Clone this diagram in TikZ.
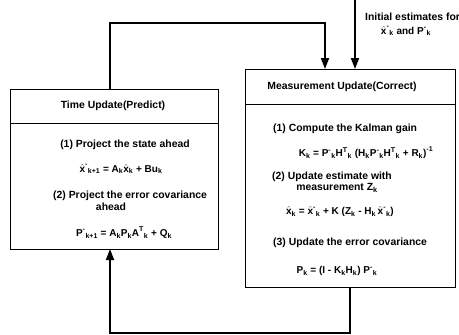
\documentclass[tikz,border=0pt]{standalone}
\usepackage{fontspec}
\usepackage{amsmath}
\setmainfont{Liberation Sans}
\usetikzlibrary{arrows.meta}
\newcommand{\T}[1]{\text{#1}}
\newcommand{\hx}{\hat{\T{x}}}
% staggered super/subscript: base^{sup} then _{sub}
\newcommand{\SX}[3]{{#1}^{\T{#2}}{}_{\T{#3}}}
\newcommand{\SB}[2]{{#1}_{\T{#2}}}
\begin{document}
\begin{tikzpicture}[x=1pt,y=-1pt,
  box/.style={draw, line width=0.6pt, outer sep=0pt, inner sep=0pt},
  sepline/.style={line width=0.6pt},
  flow/.style={line width=1.8pt, line join=miter, -{Triangle[length=11pt,width=8pt]}},
  lbl/.style={font=\fontsize{10.4}{11}\selectfont\bfseries, inner sep=0pt, align=center},
  lblw/.style={lbl, anchor=west},
  frm/.style={font=\fontsize{10}{11}\selectfont\bfseries, inner sep=0pt}]
\useasboundingbox (0,0) rectangle (459,335);
% boxes
\node[box, minimum width=208pt, minimum height=160pt] (lb) at (114,169) {};
\node[box, minimum width=210pt, minimum height=218pt] (rb) at (350,178) {};
\coordinate (sepL) at (0,123);
\coordinate (sepR) at (0,104);
\draw[sepline] (lb.west |- sepL) -- (lb.east |- sepL);
\draw[sepline] (rb.west |- sepR) -- (rb.east |- sepR);
% left texts
\node[lbl] (lh) at (113,106) {Time Update(Predict)};
\node[lbl] (l1) at (125,145) {(1) Project the state ahead};
\node[frm] (lf1) at (121,169) {$\SX{\hx}{-}{k+1}\T{ = }\SB{\T{A}}{k}\SB{\hx}{k}\T{ + B}\SB{\T{u}}{k}$};
\node[lblw] (l2) at (53,196) {(2) Project the error covariance};
\node[lbl] (l2b) at (111,207) {ahead};
\node[frm] (lf2) at (124,233) {$\SX{\T{P}}{-}{k+1}\T{ = }\SB{\T{A}}{k}\SB{\T{P}}{k}\SX{\T{A}}{T}{k}\T{ + }\SB{\T{Q}}{k}$};
% right texts
\node[lbl] (rh) at (342,87) {Measurement Update(Correct)};
\node[lblw] (r1) at (273,129) {(1) Compute the Kalman gain};
\node[frm] (rf1) at (366,153) {$\SB{\T{K}}{k}\T{ = }\SX{\T{P}}{-}{k}\SX{\T{H}}{T}{k}\T{ (}\SB{\T{H}}{k}\SX{\T{P}}{-}{k}\SX{\T{H}}{T}{k}\T{ + }\SB{\T{R}}{k}\T{)}^{\T{-1}}$};
\node[lblw] (r2) at (272,177) {(2) Update estimate with};
\node[lbl] (r2b) at (337,188) {measurement Z$_{\T{k}}$};
\node[frm] (rf2) at (340,212) {$\SB{\hx}{k}\;\T{=}\;\SX{\hx}{-}{k}\T{ + K (}\SB{\T{Z}}{k}\T{ - }\SB{\T{H}}{k}\,\SX{\hx}{-}{k}\T{)}$};
\node[lblw] (r3) at (273,243) {(3) Update the error covariance};
\node[frm] (rf3) at (337,271) {$\SB{\T{P}}{k}\T{ = (I - }\SB{\T{K}}{k}\SB{\T{H}}{k}\T{) }\SX{\T{P}}{-}{k}$};
% initial text
\node[lbl, anchor=west] (i1) at (365,17) {Initial estimates for};
\node[frm] (i2) at (406,31) {$\SX{\hx}{-}{k}$ and $\SX{\T{P}}{-}{k}$};
% connectors
\coordinate (xa) at (110,0);
\coordinate (xb) at (325,0);
\coordinate (xc) at (355,0);
\coordinate (xd) at (350,0);
\coordinate (ytop) at (0,23);
\coordinate (ybot) at (0,333);
\draw[flow] (lb.north -| xa) -- (xa |- ytop) -- (xb |- ytop) -- (rb.north -| xb);
\draw[flow] (xc) -- (rb.north -| xc);
\draw[flow] (rb.south -| xd) -- (xd |- ybot) -- (xa |- ybot) -- (lb.south -| xa);
\end{tikzpicture}
\end{document}
